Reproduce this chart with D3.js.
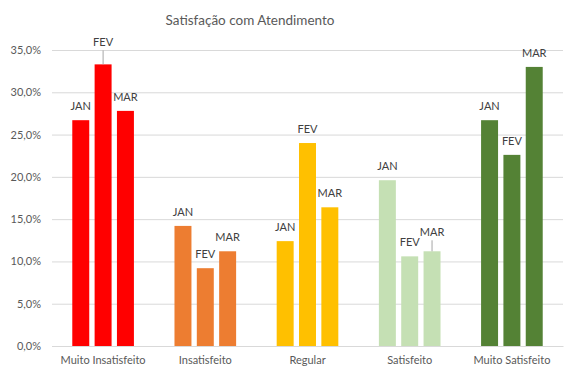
<!DOCTYPE html>
<html><head><meta charset="utf-8">
<script src="https://cdn.jsdelivr.net/npm/d3@7"></script>
<style>body{margin:0;background:#fff}svg{display:block}text{font-family:Lato,"Open Sans",sans-serif}</style>
</head><body>
<script>
const categories = ["Muito Insatisfeito","Insatisfeito","Regular","Satisfeito","Muito Satisfeito"];
const months = ["JAN","FEV","MAR"];
const jan = [26.7, 14.2, 12.4, 19.6, 26.7];
const fev = [33.3, 9.2, 24.0, 10.6, 22.6];
const mar = [27.8, 11.2, 16.4, 11.2, 33.0];
const yTicks = [0,5,10,15,20,25,30,35];
const colors = ["#FF0000","#ED7D31","#FFC000","#C5E0B4","#548235"];
// labels raised with a leader line: [category index, month index, extra lift px]
const leaderLabels = [[0,1,8],[3,2,5]];

const W=575,H=378, m={l:52,r:12,t:50,b:32};
const svg=d3.select("body").append("svg").attr("width",W).attr("height",H);
const series=[jan,fev,mar];
const data=[];
categories.forEach((c,i)=>months.forEach((mo,j)=>data.push({c,i,mo,j,v:series[j][i]})));

const x0=d3.scaleBand().domain(categories).range([m.l,W-m.r]).padding(0);
const x1=d3.scaleBand().domain(months).range([x0.bandwidth()/2-33.5,x0.bandwidth()/2+33.5]).paddingInner(0.24).paddingOuter(0.12);
const y=d3.scaleLinear().domain([0,35]).range([H-m.b,m.t]);

svg.append("text").attr("x",250).attr("y",25).attr("text-anchor","middle")
  .attr("font-size",13.5).attr("fill","#595959").text("Satisfação com Atendimento");

const yAxis=svg.append("g").attr("transform",`translate(${m.l},0)`)
  .call(d3.axisLeft(y).tickValues(yTicks).tickSize(-(W-m.l-m.r)).tickPadding(11)
  .tickFormat(d=>d3.format(".1f")(d).replace(".",",")+"%"));
yAxis.select(".domain").remove();
yAxis.selectAll("line").attr("stroke","#d9d9d9");
yAxis.selectAll("text").attr("fill","#595959").attr("font-size",11).style("font-family","Lato,'Open Sans',sans-serif");

const xAxis=svg.append("g").attr("transform",`translate(0,${H-m.b})`)
  .call(d3.axisBottom(x0).tickSize(0).tickPadding(10));
xAxis.select(".domain").attr("stroke","#d9d9d9");
xAxis.selectAll("text").attr("fill","#595959").attr("font-size",11).style("font-family","Lato,'Open Sans',sans-serif");

svg.append("g").selectAll("rect").data(data).join("rect")
  .attr("x",d=>x0(d.c)+x1(d.mo)).attr("width",x1.bandwidth())
  .attr("y",d=>y(d.v)).attr("height",d=>y(0)-y(d.v))
  .attr("fill",d=>colors[d.i]);

const lift=d=>{const f=leaderLabels.find(l=>l[0]===d.i&&l[1]===d.j);return f?f[2]:0;};
const lg=svg.append("g");
data.forEach(d=>{
  const cx=x0(d.c)+x1(d.mo)+x1.bandwidth()/2;
  const top=y(d.v);
  const L=lift(d);
  const base=top-10-L;
  if(L>0){
    lg.append("line").attr("x1",cx).attr("x2",cx).attr("y1",top).attr("y2",base+4)
      .attr("stroke","#a6a6a6").attr("stroke-width",1);
  }
  lg.append("text").attr("x",cx).attr("y",base).attr("text-anchor","middle")
    .attr("font-size",11).attr("fill","#404040").text(d.mo);
});
</script>
</body></html>
